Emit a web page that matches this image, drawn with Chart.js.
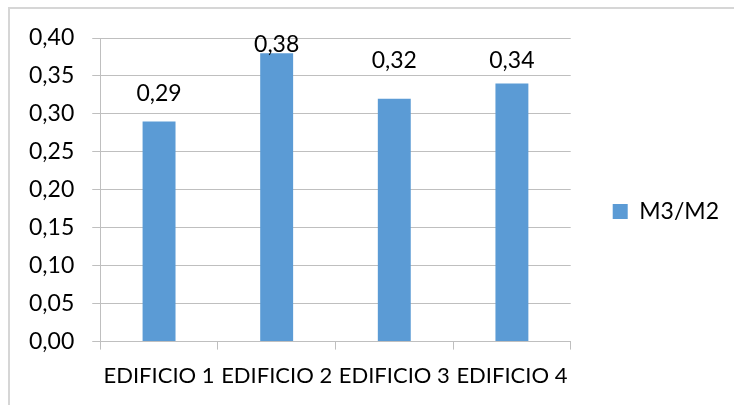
<!DOCTYPE html>
<html>
<head>
<meta charset="utf-8">
<script src="https://cdn.jsdelivr.net/npm/chart.js@4/dist/chart.umd.min.js"></script>
<style>
  html, body { margin: 0; padding: 0; background: #fff; }
  #wrap { position: relative; width: 734px; height: 405px; overflow: hidden; }
  #frame { position: absolute; left: 8px; top: 7px; width: 800px; height: 500px;
           border-left: 2px solid #d6d6d6; border-top: 2px solid #d6d6d6; }
  canvas { position: absolute; left: 0; top: 0; }
</style>
</head>
<body>
<div id="wrap">
  <div id="frame"></div>
  <canvas id="c" width="734" height="405"></canvas>
</div>
<script>
const categories = ['EDIFICIO 1', 'EDIFICIO 2', 'EDIFICIO 3', 'EDIFICIO 4'];
const seriesName = 'M3/M2';
const ratioValues = [0.29, 0.38, 0.32, 0.34];
const yTicks = [0, 0.05, 0.10, 0.15, 0.20, 0.25, 0.30, 0.35, 0.40];

const FONT = "Lato, 'Liberation Sans', Arial, sans-serif";
const fmt = v => Number(v).toFixed(2).replace('.', ',');

// Draws each bar's value above it, kept inside the plot area
const barValueLabels = {
  id: 'barValueLabels',
  afterDatasetsDraw(chart, args, opts) {
    const ctx = chart.ctx;
    const meta = chart.getDatasetMeta(0);
    const area = chart.chartArea;
    ctx.save();
    ctx.font = opts.size + 'px ' + FONT;
    ctx.fillStyle = '#000';
    ctx.textAlign = 'center';
    ctx.textBaseline = 'alphabetic';
    meta.data.forEach((bar, i) => {
      const lift = opts.gap + (opts.nudge[i] || 0);
      const y = Math.max(bar.y - lift, area.top + opts.minInset);
      ctx.fillText(fmt(chart.data.datasets[0].data[i]), bar.x, y);
    });
    ctx.restore();
  }
};

// Raises the centred legend a little by trimming the bottom of its box
const legendLift = {
  id: 'legendLift',
  afterLayout(chart, args, opts) {
    if (chart.legend) chart.legend.bottom -= opts.trim;
  }
};

new Chart(document.getElementById('c'), {
  type: 'bar',
  data: {
    labels: categories,
    datasets: [{
      label: seriesName,
      data: ratioValues,
      backgroundColor: '#5B9BD5',
      borderWidth: 0,
      categoryPercentage: 1.0,
      barPercentage: 0.28
    }]
  },
  options: {
    responsive: false,
    animation: false,
    devicePixelRatio: 1,
    layout: { padding: { left: 11, top: 38, right: 5, bottom: 3 } },
    plugins: {
      tooltip: { enabled: false },
      barValueLabels: { size: 23, gap: 20, minInset: 14, nudge: [0, 0, 11, -4] },
      legendLift: { trim: 17 },
      legend: {
        position: 'right',
        labels: {
          boxWidth: 15,
          boxHeight: 15,
          padding: 42,
          color: '#000',
          font: { family: FONT, size: 23 }
        }
      }
    },
    scales: {
      x: {
        grid: {
          offset: true,
          drawOnChartArea: false,
          drawTicks: true,
          tickLength: 8,
          color: '#bfbfbf',
          lineWidth: 1
        },
        border: { display: true, color: '#bfbfbf', width: 1 },
        ticks: {
          autoSkip: false,
          maxRotation: 0,
          minRotation: 0,
          padding: 13,
          color: '#000',
          font: { family: FONT, size: 22 }
        }
      },
      y: {
        min: 0,
        max: 0.40,
        afterBuildTicks: axis => { axis.ticks = yTicks.map(v => ({ value: v })); },
        grid: {
          drawTicks: true,
          tickLength: 8,
          color: '#bfbfbf',
          lineWidth: 1
        },
        border: { display: true, color: '#bfbfbf', width: 1 },
        ticks: {
          padding: 18,
          color: '#000',
          font: { family: FONT, size: 23 },
          callback: v => fmt(v)
        }
      }
    }
  },
  plugins: [barValueLabels, legendLift]
});
</script>
</body>
</html>
